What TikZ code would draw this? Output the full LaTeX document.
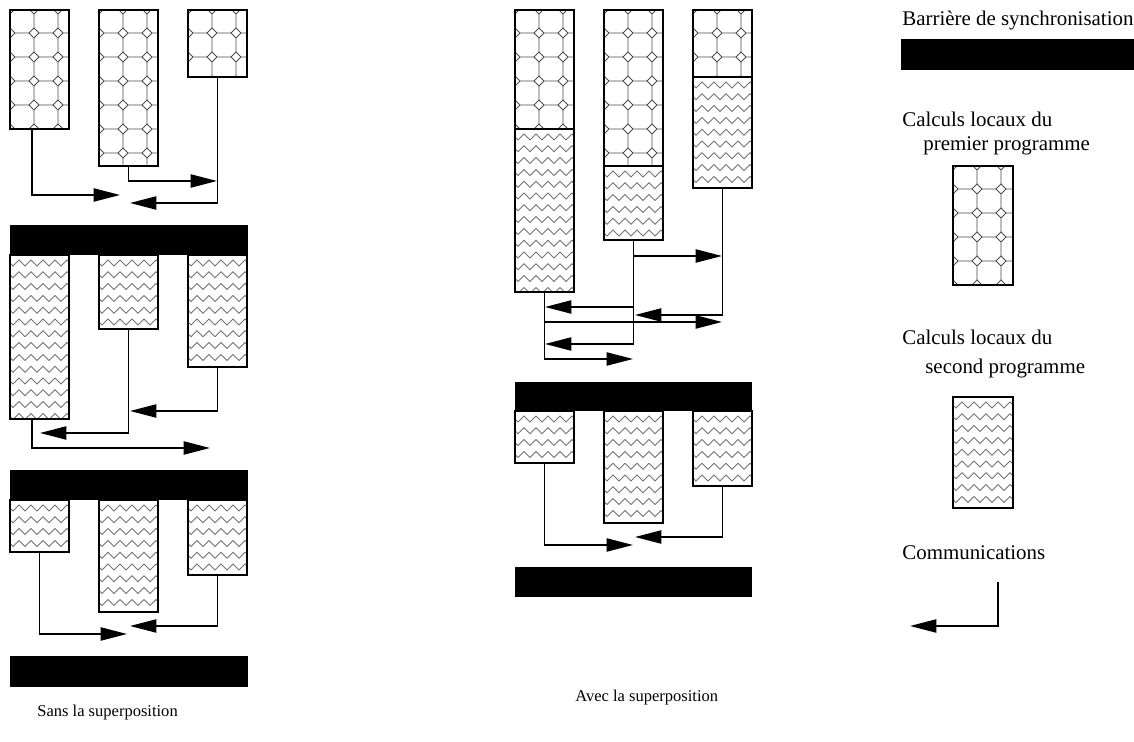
\documentclass[tikz,border=0pt]{standalone}
\usepackage{fontspec}
\setmainfont{Liberation Serif}
\usetikzlibrary{arrows.meta, calc}
\tikzset{
  legende/.style={inner sep=0pt, anchor=base west, font=\fontsize{11.9}{14}\selectfont},
  titre/.style={inner sep=0pt, anchor=base west, font=\fontsize{9.4}{12}\selectfont},
  motif/.style={line width=0.5pt, color=black!70},
  cadre/.style={line width=0.7pt},
  bloc/.style 2 args={inner sep=0pt, outer sep=0pt, anchor=north west,
    minimum width=#1*0.2mm, minimum height=#2*0.2mm},
  barriere/.style 2 args={fill=black, inner sep=0pt, outer sep=0pt, anchor=north west,
    minimum width=#1*0.2mm, minimum height=#2*0.2mm},
  comm/.style={-{Triangle[length=15pt, width=7.5pt]}, line width=0.95pt}
}
% motif octogones du premier programme
\newcommand{\octo}[1]{%
  \begin{scope}
    \clip (#1.north west) rectangle (#1.south east);
    \begin{scope}[shift={(#1.north west)}]
      \foreach \i in {0,...,3}{
        \foreach \j in {0,...,7}{
          \draw[motif] (24*\i-5,24*\j-1) -- (24*\i,24*\j-6) -- (24*\i+5,24*\j-1) -- (24*\i,24*\j+4) -- cycle
            (24*\i+5,24*\j-1) -- (24*\i+19,24*\j-1)
            (24*\i,24*\j+4) -- (24*\i,24*\j+18);
        }
      }
    \end{scope}
  \end{scope}
  \draw[cadre] (#1.north west) rectangle (#1.south east);
}
% motif zigzag du second programme
\newcommand{\zigzag}[1]{%
  \begin{scope}
    \clip (#1.north west) rectangle (#1.south east);
    \begin{scope}[shift={(#1.north west)}]
      \foreach \j in {0,...,14}{
        \draw[motif, color=black!55] (-3,5+11.8*\j)
          \foreach \k in {0,...,5}{ -- (12*\k+3,11+11.8*\j) -- (12*\k+9,5+11.8*\j) };
      }
    \end{scope}
  \end{scope}
  \draw[cadre] (#1.north west) rectangle (#1.south east);
}

\begin{document}
\begin{tikzpicture}[x=0.2mm, y=-0.2mm]
\useasboundingbox (0,0) rectangle (1134,742);

% sans la superposition
\node[bloc={59}{119}] (a1) at (10,10) {}; \octo{a1}
\node[bloc={59}{156}] (a2) at (99,10) {}; \octo{a2}
\node[bloc={59}{67}] (a3) at (188,10) {}; \octo{a3}
\coordinate (ta1) at (120,195);
\coordinate (ta2) at (217,181);
\coordinate (ta3) at (130,203);
\draw[comm] ($(a1.south)+(-7.5,0)$) |- (ta1);
\draw[comm] (a2.south) |- (ta2);
\draw[comm] (a3.south) |- (ta3);

\node[barriere={238}{30}] (bar1) at (10,225) {};
\node[bloc={59}{164}] (b1) at (10,255) {}; \zigzag{b1}
\node[bloc={59}{74}] (b2) at (99,255) {}; \zigzag{b2}
\node[bloc={59}{112}] (b3) at (188,255) {}; \zigzag{b3}
\coordinate (tb1) at (210,448);
\coordinate (tb2) at (40,433);
\coordinate (tb3) at (130,411);
\draw[comm] ($(b1.south)+(-7.5,0)$) |- (tb1);
\draw[comm] (b2.south) |- (tb2);
\draw[comm] (b3.south) |- (tb3);

\node[barriere={238}{30}] (bar2) at (10,470) {};
\node[bloc={59}{52}] (c1) at (10,500) {}; \zigzag{c1}
\node[bloc={59}{112}] (c2) at (99,500) {}; \zigzag{c2}
\node[bloc={59}{75}] (c3) at (188,500) {}; \zigzag{c3}
\coordinate (tc1) at (127,634);
\coordinate (tc3) at (130,626);
\draw[comm] (c1.south) |- (tc1);
\draw[comm] (c3.south) |- (tc3);

\node[barriere={238}{31}] (bar3) at (10,656) {};
\node[titre] (sans) at (37,717) {Sans la superposition};

% avec la superposition
\node[bloc={59}{119}] (d1o) at (515,10) {}; \octo{d1o}
\node[bloc={59}{163}] (d1z) at (d1o.south west) {}; \zigzag{d1z}
\node[bloc={59}{156}] (d2o) at (604,10) {}; \octo{d2o}
\node[bloc={59}{74}] (d2z) at (d2o.south west) {}; \zigzag{d2z}
\node[bloc={59}{67}] (d3o) at (693,10) {}; \octo{d3o}
\node[bloc={59}{111}] (d3z) at (d3o.south west) {}; \zigzag{d3z}
\coordinate (td1) at (545,307);
\coordinate (td2) at (635,315);
\coordinate (td3) at (722,322);
\coordinate (td4) at (545,344);
\coordinate (td5) at (633,359);
\coordinate (td6) at (722,256);
\draw[comm] (d2z.south |- td6) -- (td6);
\draw[comm] (d2z.south |- td1) -- (td1);
\draw[comm] (d3z.south) |- (td2);
\draw[comm] (d1z.south |- td3) -- (td3);
\draw[comm] (d2z.south) |- (td4);
\draw[comm] (d1z.south) |- (td5);

\node[barriere={237}{29}] (bar4) at (515,382) {};
\node[bloc={59}{52}] (e1) at (515,411) {}; \zigzag{e1}
\node[bloc={59}{112}] (e2) at (604,411) {}; \zigzag{e2}
\node[bloc={59}{75}] (e3) at (693,411) {}; \zigzag{e3}
\coordinate (te1) at (633,545);
\coordinate (te3) at (635,537);
\draw[comm] (e1.south) |- (te1);
\draw[comm] (e3.south) |- (te3);

\node[barriere={237}{30}] (bar5) at (515,567) {};
\node[titre] (avec) at (575,702) {Avec la superposition};

% legende
\node[legende] (lbar) at (902,26) {Barrière de synchronisation};
\node[barriere={233}{31}] (bar6) at (901,39) {};
\node[legende] (lp1) at (902,127) {Calculs locaux du};
\node[legende] (lp2) at (923,151) {premier programme};
\node[bloc={60}{119}] (lo) at (953,166) {}; \octo{lo}
\node[legende] (ls1) at (902,345) {Calculs locaux du};
\node[legende] (ls2) at (925,374) {second programme};
\node[bloc={60}{111}] (lz) at (953,397) {}; \zigzag{lz}
\node[legende] (lcom) at (902,560) {Communications};
\coordinate (lc0) at (998,582);
\coordinate (lc1) at (910,626);
\draw[comm] (lc0) |- (lc1);
\end{tikzpicture}
\end{document}
